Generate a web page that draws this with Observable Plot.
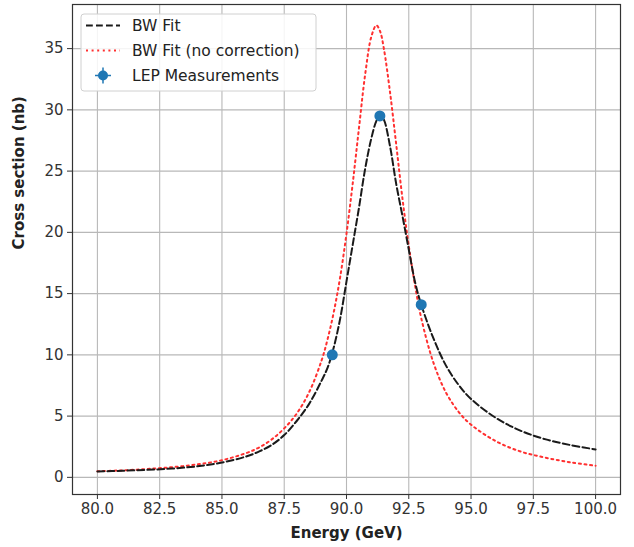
<!DOCTYPE html>
<html>
<head>
<meta charset="utf-8">
<script src="https://cdn.jsdelivr.net/npm/d3@7"></script>
<script src="https://cdn.jsdelivr.net/npm/@observablehq/plot@0.6"></script>
<style>
  html, body { margin: 0; padding: 0; background: #fff; }
  #chart { width: 634px; height: 547px; }
</style>
</head>
<body>
<div id="chart"></div>
<script>
// ---- data ----
const energy = [80, 81, 82, 83, 84, 85, 86, 86.5, 87, 87.5, 88, 88.5, 89, 89.25, 89.5, 89.75, 90, 90.25, 90.5, 90.75, 91, 91.2, 91.35, 91.5, 91.75, 92, 92.25, 92.5, 92.75, 93, 93.5, 94, 94.5, 95, 96, 97, 98, 99, 100];
const bwFit = [0.48, 0.54, 0.61, 0.72, 0.9, 1.21, 1.72, 2.12, 2.65, 3.45, 4.6, 6.0, 7.9, 9.0, 10.7, 13.0, 16.0, 19.0, 22.0, 25.2, 27.7, 29.1, 29.6, 29.2, 27.0, 23.9, 21.3, 18.6, 15.95, 14.1, 11.3, 9.1, 7.55, 6.4, 4.85, 3.8, 3.1, 2.63, 2.28];
const bwFitNoCorrection = [0.5, 0.57, 0.68, 0.83, 1.05, 1.4, 2.0, 2.45, 3.1, 4.0, 5.2, 6.95, 9.55, 11.35, 13.6, 16.4, 19.9, 24.0, 28.5, 32.9, 36.0, 36.9, 36.4, 35.0, 31.4, 27.1, 22.7, 18.9, 15.7, 13.0, 9.3, 6.9, 5.35, 4.3, 2.95, 2.1, 1.6, 1.22, 0.95];
const lepEnergy = [89.43, 91.34, 93.0];
const lepSigma = [10.0, 29.5, 14.1];
const lepError = [0.1, 0.15, 0.1];
const xTicks = [80, 82.5, 85, 87.5, 90, 92.5, 95, 97.5, 100];
const yTicks = [0, 5, 10, 15, 20, 25, 30, 35];
const legendLabels = ["BW Fit", "BW Fit (no correction)", "LEP Measurements"];

const fitRows = energy.map((e, i) => ({e, s: bwFit[i]}));
const rawRows = energy.map((e, i) => ({e, s: bwFitNoCorrection[i]}));
const lepRows = lepEnergy.map((e, i) => ({e, s: lepSigma[i], err: lepError[i]}));

const FONT = "DejaVu Sans, sans-serif";
const blue = "#1f77b4";
const redDots = "2,3.6";
const blackDash = "6.8,3.2";

const plot = Plot.plot({
  width: 634,
  height: 547,
  marginLeft: 72,
  marginRight: 14,
  marginTop: 4,
  marginBottom: 53,
  style: {fontFamily: FONT, fontSize: "15px", color: "#222", background: "#fff"},
  x: {domain: [79, 101]},
  y: {domain: [-1.4, 38.6]},
  marks: [
    Plot.gridX(xTicks, {stroke: "#b8b8b8", strokeOpacity: 1, strokeWidth: 1.1}),
    Plot.gridY(yTicks, {stroke: "#b8b8b8", strokeOpacity: 1, strokeWidth: 1.1}),
    Plot.axisX(xTicks, {tickFormat: d => d.toFixed(1), tickSize: 5, tickPadding: 4, label: null, stroke: "#333", fill: "#333"}),
    Plot.axisY(yTicks, {tickFormat: d => String(d), tickSize: 5, tickPadding: 4, label: null, stroke: "#333", fill: "#333"}),
    Plot.line(rawRows, {x: "e", y: "s", curve: "catmull-rom", stroke: "#ff3030", strokeWidth: 2, strokeDasharray: redDots}),
    Plot.line(fitRows, {x: "e", y: "s", curve: "catmull-rom", stroke: "#1a1a1a", strokeWidth: 2, strokeDasharray: blackDash}),
    Plot.ruleX(lepRows, {x: "e", y1: d => d.s - d.err, y2: d => d.s + d.err, stroke: blue, strokeWidth: 1.5}),
    Plot.dot(lepRows, {x: "e", y: "s", r: 5.5, fill: blue, stroke: "none"}),
    Plot.frame({stroke: "#333", strokeWidth: 1.2}),
    Plot.text(["Energy (GeV)"], {frameAnchor: "bottom", dy: 43, fontWeight: "bold", fontSize: 15, fill: "#222"}),
    Plot.text(["Cross section (nb)"], {frameAnchor: "left", rotate: -90, dx: -53, fontWeight: "bold", fontSize: 15, fill: "#222"})
  ]
});

document.getElementById("chart").appendChild(plot);

// legend drawn inside the axes, matplotlib style
const svg = d3.select(plot);
const lg = svg.append("g").attr("font-family", FONT).attr("font-size", 15.5).attr("text-anchor", "start");
lg.append("rect").attr("x", 81).attr("y", 14).attr("width", 235).attr("height", 77)
  .attr("rx", 3).attr("fill", "#fff").attr("fill-opacity", 0.85).attr("stroke", "#d0d0d0");
const rowsY = [25.5, 50.5, 75.5];
lg.append("line").attr("x1", 86).attr("x2", 120).attr("y1", rowsY[0]).attr("y2", rowsY[0])
  .attr("stroke", "#1a1a1a").attr("stroke-width", 2).attr("stroke-dasharray", blackDash);
lg.append("line").attr("x1", 86).attr("x2", 120).attr("y1", rowsY[1]).attr("y2", rowsY[1])
  .attr("stroke", "#ff3030").attr("stroke-width", 2).attr("stroke-dasharray", redDots);
lg.append("line").attr("x1", 95).attr("x2", 111).attr("y1", rowsY[2]).attr("y2", rowsY[2])
  .attr("stroke", blue).attr("stroke-width", 1.5);
lg.append("line").attr("x1", 103).attr("x2", 103).attr("y1", rowsY[2] - 8).attr("y2", rowsY[2] + 8)
  .attr("stroke", blue).attr("stroke-width", 1.5);
lg.append("circle").attr("cx", 103).attr("cy", rowsY[2]).attr("r", 5).attr("fill", blue);
legendLabels.forEach((t, i) => {
  lg.append("text").attr("x", 132).attr("y", rowsY[i]).attr("dy", "0.35em")
    .attr("text-anchor", "start").attr("fill", "#222").text(t);
});
</script>
</body>
</html>
